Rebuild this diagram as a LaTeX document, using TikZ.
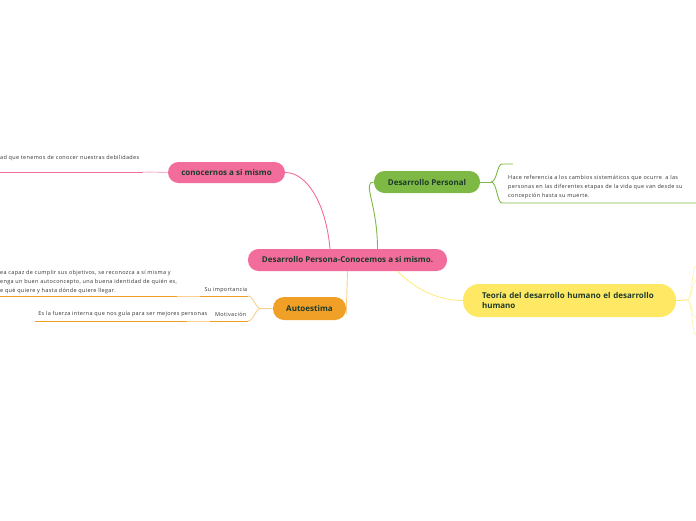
\documentclass[tikz,border=0pt]{standalone}
\usepackage{fontspec}
\setmainfont{Open Sans}
\newfontfamily\smallfont[LetterSpace=6]{Open Sans}
\usetikzlibrary{backgrounds}
\definecolor{pinkc}{HTML}{F26C9C}
\definecolor{pinkl}{HTML}{F8B3CC}
\definecolor{greenc}{HTML}{7DB944}
\definecolor{yellowc}{HTML}{FFE964}
\definecolor{yellowl}{HTML}{FFF2A8}
\definecolor{orangec}{HTML}{F0A027}
\definecolor{orangel}{HTML}{F8CF8E}
\definecolor{txt}{HTML}{1E3A2B}
\definecolor{small}{HTML}{333333}
\tikzset{
  topic/.style={rounded corners=10.5pt, inner sep=0pt, text=txt, font=\fontsize{8}{10}\selectfont\bfseries},
  smalltext/.style={inner sep=0pt, text=small, font=\smallfont\fontsize{5.5}{9}\selectfont},
  conn/.style={line width=0.9pt},
}
\begin{document}
\begin{tikzpicture}[x=1pt,y=-1pt]
\useasboundingbox (0,0) rectangle (696,520);
% nodes
\node[topic, fill=pinkc, minimum width=199pt, minimum height=22pt] (c) at (347.5,260) {Desarrollo Persona-Conocemos a si mismo.};
\node[topic, fill=pinkc, minimum width=117pt, minimum height=21pt] (k) at (226.5,172.5) {conocernos a si mismo};
\node[topic, fill=greenc, minimum width=106pt, minimum height=22pt] (d) at (427,182) {Desarrollo Personal};
\node[topic, fill=yellowc, minimum width=213pt, minimum height=33pt, text width=175pt, inner xsep=19pt, align=left, rounded corners=16pt] (t) at (569.5,300.5) {Teoría del desarrollo humano el desarrollo humano};
\node[topic, fill=orangec, minimum width=73pt, minimum height=23pt, rounded corners=11pt] (a) at (309.5,308.5) {Autoestima};

% texts
\node[smalltext, anchor=west] (kt) at (0,158.5) {ad que tenemos de conocer nuestras debilidades};
\node[smalltext, anchor=north west, align=left] (dt) at (508,175) {Hace referencia a los cambios sistemáticos que ocurre\ \ a las\\personas en las diferentes etapas de la vida que van desde su\\concepción hasta su muerte.};
\node[smalltext, anchor=east] (si) at (247.5,290) {Su importancia};
\node[smalltext, anchor=east] (mo) at (246.5,314) {Motivación};
\node[smalltext, anchor=north west, align=left] (sit) at (0,270.5) {ea capaz de cumplir sus objetivos, se reconozca a sí misma y\\enga un buen autoconcepto, una buena identidad de quién es,\\e qué quiere y hasta dónde quiere llegar.};
\node[smalltext, anchor=east] (mot) at (207.5,314) {Es la fuerza interna que nos guía para ser mejores personas};

% coordinates
\coordinate (kmid) at (143,172);
\coordinate (kend) at (0,172);
\coordinate (dj) at (491,182);
\coordinate (dup) at (502,164);
\coordinate (dupe) at (513,164);
\coordinate (ddn) at (502,203);
\coordinate (ddne) at (696,203);
\coordinate (tj) at (687,300);
\coordinate (t1) at (696,266);
\coordinate (t2) at (696,281);
\coordinate (t3) at (696,318);
\coordinate (t4) at (696,335);
\coordinate (aj) at (261,308.5);
\coordinate (siA) at (248,296);
\coordinate (siB) at (200,296);
\coordinate (siC) at (177,296);
\coordinate (siD) at (0,296);
\coordinate (moA) at (248,321);
\coordinate (moB) at (210,321);
\coordinate (moC) at (187,321);
\coordinate (moD) at (35,321);

\begin{pgfonlayer}{background}
% pink
\draw[conn, pinkc] (k.east) .. controls +(22,0) and +(-4,-45) .. ([xshift=-17.5pt]c.north);
\draw[conn, pinkl] (k.west) -- (kmid);
\draw[conn, pinkc] (kmid) -- (kend);
% green
\draw[conn, greenc] ([xshift=30pt]c.north) .. controls +(0,-45) and +(-12,0) .. (d.west);
\draw[conn, greenc] (d.east) -- (dj);
\draw[conn, greenc] (dj) .. controls +(6,0) and +(-5,0) .. (dup) -- (dupe);
\draw[conn, greenc] (dj) .. controls +(6,0) and +(-5,0) .. (ddn) -- (ddne);
% yellow
\draw[conn, yellowc, line width=0.7pt] ([xshift=50pt]c.south) .. controls +(18,18) and +(-25,0) .. (t.west);
\draw[conn, yellowc] (t.east) -- (tj);
\foreach \e in {t1,t2,t3,t4}{
  \draw[yellowl, line width=0.6pt] (tj) .. controls +(5,0) and +(-4,0) .. (\e);
}
% orange
\draw[conn, orangel] (c.south) -- ([yshift=-6pt]a.east);
\draw[conn, orangel] (a.west) -- (aj);
\draw[conn, orangel] (aj) .. controls +(-6,0) and +(6,0) .. (siA);
\draw[conn, orangel] (aj) .. controls +(-6,0) and +(6,0) .. (moA);
\draw[conn, orangec] (siA) -- (siB);
\draw[conn, orangel] (siB) -- (siC);
\draw[conn, orangec] (siC) -- (siD);
\draw[conn, orangec] (moA) -- (moB);
\draw[conn, orangel] (moB) -- (moC);
\draw[conn, orangec] (moC) -- (moD);
\end{pgfonlayer}
\end{tikzpicture}
\end{document}
